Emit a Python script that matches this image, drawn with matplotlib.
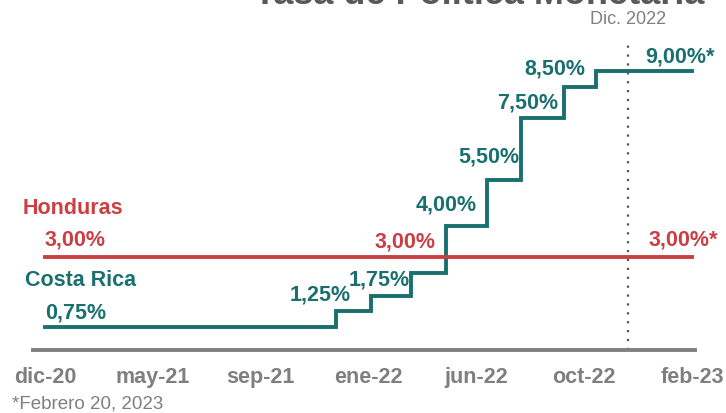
import matplotlib
matplotlib.use("Agg")
import matplotlib.pyplot as plt
import matplotlib.dates as mdates
import pandas as pd

plt.rcParams['font.family'] = ['Liberation Sans', 'DejaVu Sans']

# data
start = pd.Timestamp('2020-12-28')
end = pd.Timestamp('2023-02-20')
cr_dates = pd.to_datetime(['2020-12-28', '2021-12-16', '2022-01-27', '2022-03-17',
                           '2022-04-28', '2022-06-16', '2022-07-28', '2022-09-18',
                           '2022-10-27', '2023-02-20'])
cr_rates = [0.75, 1.25, 1.75, 2.50, 4.00, 5.50, 7.50, 8.50, 9.00, 9.00]
hn_dates = pd.to_datetime(['2020-12-28', '2023-02-20'])
hn_rates = [3.00, 3.00]
cut_date = pd.Timestamp('2022-12-05')
tick_labels = ['dic-20', 'may-21', 'sep-21', 'ene-22', 'jun-22', 'oct-22', 'feb-23']

TEAL = '#19706f'
RED = '#cb3f43'
GRAY = '#7f7f7f'

W, H = 726, 413
fig = plt.figure(figsize=(W / 100, H / 100), dpi=100)
# axes spans pixel x 33..695, y 40..350
ax = fig.add_axes([33 / W, 1 - 350 / H, (695 - 33) / W, (350 - 40) / H])

ppd = (692 - 45) / (end - start).days
x0 = mdates.date2num(start) - 12 / ppd
x1 = mdates.date2num(end) + 3 / ppd
ax.set_xlim(x0, x1)
ax.set_ylim(0, 10)

ax.step(cr_dates, cr_rates, where='post', color=TEAL, lw=2.8, solid_joinstyle='miter')
ax.plot(hn_dates, hn_rates, color=RED, lw=2.8)
ax.axvline(cut_date, ymin=0, ymax=1, color='#555555', ls=(0, (1, 3)), lw=1.6)

for s in ['top', 'right', 'left']:
    ax.spines[s].set_visible(False)
ax.spines['bottom'].set_color(GRAY)
ax.spines['bottom'].set_linewidth(2.8)
ax.set_yticks([])
ticks = [start + (end - start) * k / 6 for k in range(7)]
ax.set_xticks(ticks)
ax.set_xticklabels(tick_labels)
ax.tick_params(axis='x', length=0, pad=12)
for t in ax.get_xticklabels():
    t.set_fontweight('bold')
    t.set_fontsize(15.5)
    t.set_color(GRAY)

lab = dict(fontsize=15.5, fontweight='bold', textcoords='offset pixels', va='center')

def fmt(v):
    return f"{v:.2f}".replace('.', ',') + '%'

# step labels: (index, dx, dy) offsets from riser point
step_offsets = [(1, -16, 16), (2, 8, 16), (4, 0, 21), (5, 2, 22), (6, 7, 15), (7, -9, 18)]
for i, dx, dy in step_offsets:
    ax.annotate(fmt(cr_rates[i]), (cr_dates[i], cr_rates[i]), xytext=(dx, dy),
                ha='center', color=TEAL, **lab)
ax.annotate(fmt(cr_rates[-1]) + '*', (cr_dates[-1], cr_rates[-1]), xytext=(-12, 14),
            ha='center', color=TEAL, **lab)
ax.annotate(fmt(cr_rates[0]), (cr_dates[0], cr_rates[0]), xytext=(0, 14),
            ha='left', color=TEAL, **lab)
ax.annotate('Costa Rica', (cr_dates[0], cr_rates[0]), xytext=(-20, 46),
            ha='left', color=TEAL, **lab)

ax.annotate(fmt(hn_rates[0]), (hn_dates[0], hn_rates[0]), xytext=(0, 17),
            ha='left', color=RED, **lab)
ax.annotate('Honduras', (hn_dates[0], hn_rates[0]), xytext=(-22, 48),
            ha='left', color=RED, **lab)
ax.annotate(fmt(hn_rates[0]), (cr_dates[3], hn_rates[0]), xytext=(-6, 15),
            ha='center', color=RED, **lab)
ax.annotate(fmt(hn_rates[-1]) + '*', (hn_dates[-1], hn_rates[-1]), xytext=(-9, 17),
            ha='center', color=RED, **lab)

ax.annotate('Dic. 2022', (cut_date, 10), xytext=(0, 21), textcoords='offset pixels',
            ha='center', va='center', fontsize=13, color=GRAY)

fig.text(479 / W, 1 - 4 / H, 'Tasa de Política Monetaria', ha='center', va='baseline',
         fontsize=26, fontweight='bold', color='#595959')
fig.text(12 / W, 1 - 404 / H, '*Febrero 20, 2023', ha='left', va='center',
         fontsize=13.5, color=GRAY)

fig.savefig('out.png', dpi=100)
